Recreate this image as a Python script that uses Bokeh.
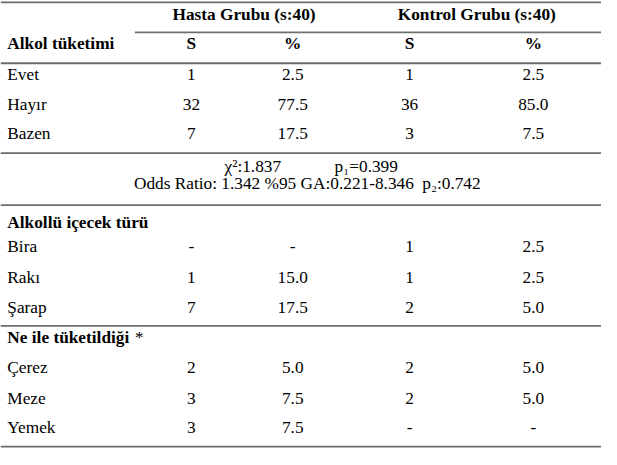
from bokeh.plotting import figure
from bokeh.models import ColumnDataSource, Range1d
from bokeh.core.properties import value
from bokeh.embed import file_html
from bokeh.resources import INLINE

# ---- data ----
group_headers = ["Hasta Grubu (s:40)", "Kontrol Grubu (s:40)"]
col_headers = ["S", "%", "S", "%"]
row_header = "Alkol tüketimi"

alkol_cats = ["Evet", "Hayır", "Bazen"]
alkol_hasta_s = ["1", "32", "7"]
alkol_hasta_pct = ["2.5", "77.5", "17.5"]
alkol_kontrol_s = ["1", "36", "3"]
alkol_kontrol_pct = ["2.5", "85.0", "7.5"]

stats_chi = "χ²:1.837"
stats_p1 = "p₁=0.399"
stats_or = "Odds Ratio: 1.342 %95 GA:0.221-8.346"
stats_p2 = "p₂:0.742"

icecek_title = "Alkollü içecek türü"
icecek_cats = ["Bira", "Rakı", "Şarap"]
icecek_hasta_s = ["-", "1", "7"]
icecek_hasta_pct = ["-", "15.0", "17.5"]
icecek_kontrol_s = ["1", "1", "2"]
icecek_kontrol_pct = ["2.5", "2.5", "5.0"]

neile_title = "Ne ile tüketildiği"
neile_cats = ["Çerez", "Meze", "Yemek"]
neile_hasta_s = ["2", "3", "3"]
neile_hasta_pct = ["5.0", "7.5", "7.5"]
neile_kontrol_s = ["2", "2", "-"]
neile_kontrol_pct = ["5.0", "5.0", "-"]

# ---- layout (reference pixel coordinates) ----
W, H = 617, 465
FONT = value("'Liberation Serif', 'Times New Roman', serif")
FS = "17.3px"
LINE_COLOR = "#6e6e6e"

x_label = 7
x_cols = [196, 300, 420, 547]
x_groups = [250, 489]

p = figure(width=601, height=449, output_backend="svg", toolbar_location=None,
           x_range=Range1d(0, W), y_range=Range1d(H, 0), min_border=0,
           outline_line_color=None, background_fill_color="white",
           border_fill_color="white")
p.axis.visible = False
p.grid.visible = False


def add_text(xs, ys, texts, align="center", bold=False, size=FS):
    src = ColumnDataSource(dict(x=xs, y=ys, t=texts))
    p.text(x="x", y="y", text="t", source=src, text_align=align,
           text_baseline="middle", text_font=FONT, text_font_size=size,
           text_font_style="bold" if bold else "normal", text_color="black")


# header
add_text(x_groups, [14, 14], group_headers, bold=True)
add_text([x_label], [45], [row_header], align="left", bold=True)
add_text(x_cols, [45] * 4, col_headers, bold=True)


def add_section(ys, cats, cols):
    add_text([x_label] * len(cats), ys, cats, align="left")
    for xc, vals in zip(x_cols, cols):
        add_text([xc] * len(vals), ys, vals)


add_section([77, 108, 138], alkol_cats,
            [alkol_hasta_s, alkol_hasta_pct, alkol_kontrol_s, alkol_kontrol_pct])

add_text([230, 343], [172, 172], [stats_chi, stats_p1], align="left")
add_text([137, 433], [190, 190], [stats_or, stats_p2], align="left")

add_text([x_label], [230], [icecek_title], align="left", bold=True)
add_section([255, 287, 318], icecek_cats,
            [icecek_hasta_s, icecek_hasta_pct, icecek_kontrol_s, icecek_kontrol_pct])

add_text([x_label], [349], [neile_title], align="left", bold=True)
add_text([138], [349], ["*"], align="left")
add_section([380, 412, 442], neile_cats,
            [neile_hasta_s, neile_hasta_pct, neile_kontrol_s, neile_kontrol_pct])

# rules
rules_y = [2, 65, 158, 212, 337, 462]
p.segment(x0=[0] * len(rules_y), x1=[W] * len(rules_y), y0=rules_y, y1=rules_y,
          line_color=LINE_COLOR, line_width=1.8)
p.segment(x0=[138], x1=[W], y0=[33], y1=[33], line_color=LINE_COLOR, line_width=1.8)

open("out.html", "w").write(file_html(p, INLINE))
